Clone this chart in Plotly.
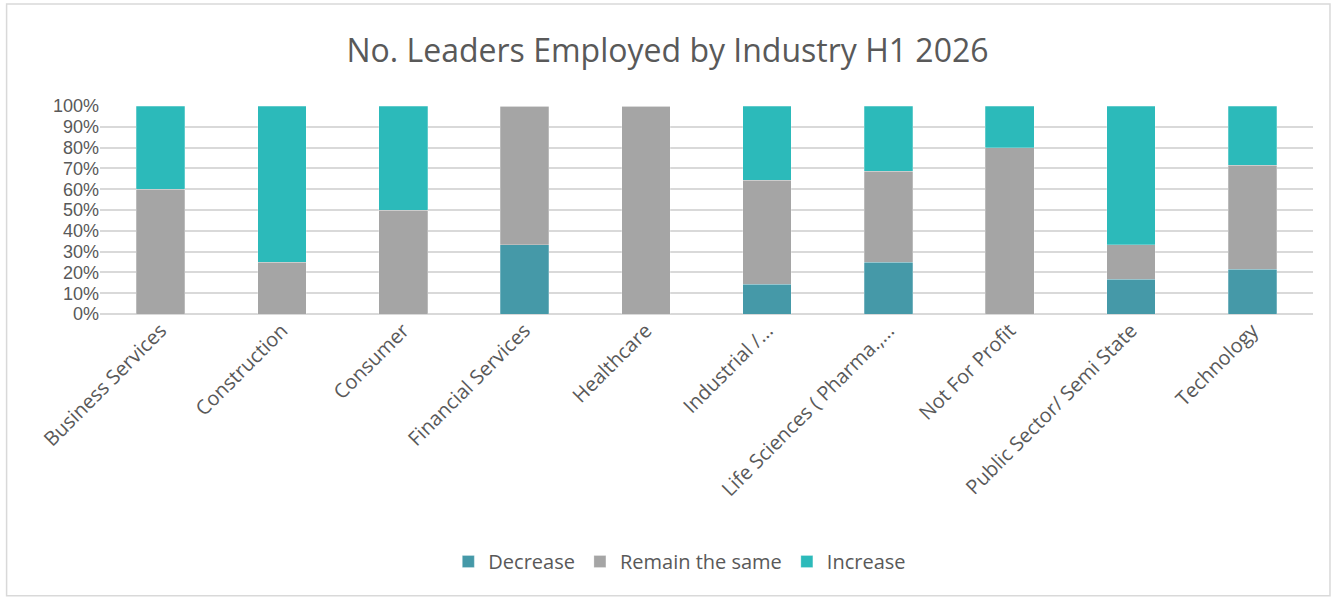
import plotly.graph_objects as go

# Share of respondents (%) per industry
industries = [
    "Business Services", "Construction", "Consumer", "Financial Services",
    "Healthcare", "Industrial /...", "Life Sciences ( Pharma.,...",
    "Not For Profit", "Public Sector/ Semi State", "Technology",
]
decrease = [0, 0, 0, 33.3, 0, 14.3, 25.0, 0, 16.7, 21.4]
remain_same = [60.0, 25.0, 50.0, 66.7, 100.0, 50.0, 43.75, 80.0, 16.7, 50.0]
increase = [40.0, 75.0, 50.0, 0, 0, 35.7, 31.25, 20.0, 66.6, 28.6]

series = [
    ("Decrease", decrease, "#4599A8"),
    ("Remain the same", remain_same, "#A5A5A5"),
    ("Increase", increase, "#2CBABA"),
]

font_family = "Open Sans, Noto Sans, sans-serif"
text_color = "#595959"

fig = go.Figure()
for name, values, color in series:
    fig.add_trace(go.Bar(
        name=name, x=industries, y=values,
        marker=dict(color=color, line=dict(color="rgba(255,255,255,0.5)", width=0.5)),
    ))

fig.update_layout(
    barmode="stack",
    bargap=0.6,
    width=1335, height=598,
    margin=dict(l=100, r=22, t=106, b=284),
    paper_bgcolor="white",
    plot_bgcolor="white",
    font=dict(family=font_family, color=text_color, size=20),
    title=dict(
        text="No. Leaders Employed by Industry H1 2026",
        x=0.5, xanchor="center", y=0.915, yanchor="middle",
        font=dict(size=32, color=text_color, family=font_family),
    ),
    legend=dict(
        orientation="h", x=0.478, xanchor="center", y=-1.19, yanchor="middle",
        font=dict(size=20, color=text_color), traceorder="normal",
        itemwidth=30,
    ),
    xaxis=dict(
        tickangle=-45, showgrid=False, showline=False, ticks="",
        tickfont=dict(size=20, color=text_color),
    ),
    yaxis=dict(
        range=[0, 100], dtick=10, ticksuffix="%",
        showgrid=True, gridcolor="#D9D9D9", gridwidth=2,
        zeroline=True, zerolinecolor="#D9D9D9", zerolinewidth=2,
        tickfont=dict(size=18, color=text_color, family="Liberation Sans, Arial, sans-serif"),
        ticks="",
    ),
    shapes=[dict(
        type="rect", xref="paper", yref="paper", x0=-0.077, x1=1.014,
        y0=-1.355, y1=1.49, line=dict(color="#D9D9D9", width=1.5),
        layer="below",
    )],
)

fig.write_html("out.html")
